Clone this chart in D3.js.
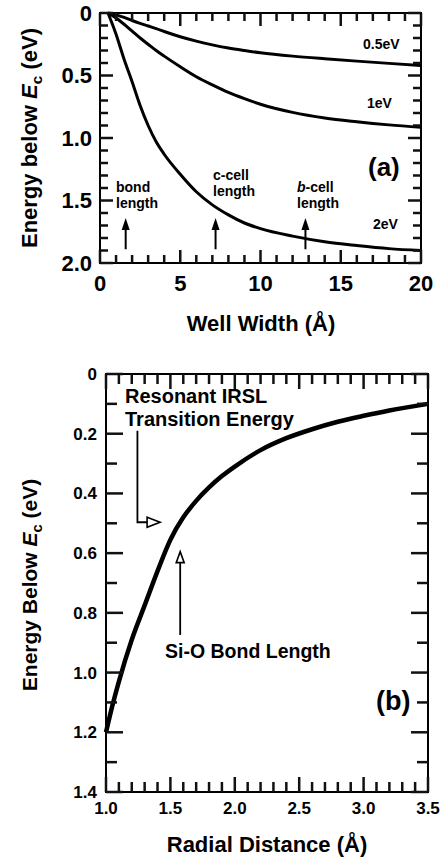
<!DOCTYPE html>
<html>
<head>
<meta charset="utf-8">
<script src="https://cdn.jsdelivr.net/npm/d3@7/dist/d3.min.js"></script>
<style>
  body { margin: 0; background: #fff; }
  text { font-family: "Liberation Sans", Arial, sans-serif; font-weight: bold; fill: #000; }
</style>
</head>
<body>
<svg id="chart" width="443" height="865"></svg>
<script>
// Panel (a): energy below Ec vs well width for three well depths
const wellWidth = [0.5, 1, 1.5, 2, 2.5, 3, 3.5, 4, 5, 6, 7, 8, 9, 10, 12, 14, 16, 18, 20];
const depth05 = [0, 0.015, 0.035, 0.06, 0.083, 0.104, 0.125, 0.148, 0.19, 0.225, 0.255, 0.28, 0.30, 0.318, 0.345, 0.366, 0.385, 0.403, 0.42];
const depth1  = [0, 0.04, 0.09, 0.145, 0.20, 0.25, 0.30, 0.345, 0.43, 0.51, 0.575, 0.635, 0.685, 0.73, 0.795, 0.84, 0.87, 0.895, 0.915];
const depth2  = [0, 0.17, 0.37, 0.55, 0.74, 0.90, 1.03, 1.13, 1.29, 1.43, 1.535, 1.615, 1.68, 1.725, 1.785, 1.83, 1.86, 1.885, 1.90];
const depthNames = ["0.5eV", "1eV", "2eV"];
const depthLabelY = [0.29, 0.76, 1.73];

// length markers in (a)
const markX = [1.6, 7.2, 12.8];
const markLine1 = ["bond", "c-cell", "-cell"];
const markLine2 = ["length", "length", "length"];

// Panel (b): energy below Ec vs radial distance
const radial = [1.0, 1.05, 1.1, 1.2, 1.3, 1.4, 1.5, 1.6, 1.7, 1.8, 1.9, 2.0, 2.2, 2.4, 2.6, 2.8, 3.0, 3.2, 3.5];
const energyB = [1.20, 1.11, 1.03, 0.89, 0.775, 0.66, 0.555, 0.48, 0.425, 0.38, 0.342, 0.31, 0.255, 0.215, 0.185, 0.16, 0.14, 0.122, 0.10];

const aYTicks = [0, 0.5, 1.0, 1.5, 2.0];
const aYLabels = ["0", "0.5", "1.0", "1.5", "2.0"];
const aXTicks = [0, 5, 10, 15, 20];
const bYTicks = [0, 0.2, 0.4, 0.6, 0.8, 1.0, 1.2, 1.4];
const bYLabels = ["0", "0.2", "0.4", "0.6", "0.8", "1.0", "1.2", "1.4"];
const bXTicks = [1.0, 1.5, 2.0, 2.5, 3.0, 3.5];

const svg = d3.select("#chart");

const isMajor = (v, majors) => majors.some(m => Math.abs(m - v) < 1e-9);
const tickLayer = [];

// box + labels; tick marks are collected and drawn last, on top of everything
function frame(x, y, o) {
  const [xl, xr] = x.range();
  const [yt, ybot] = y.range();

  o.xMinor.forEach(v => {
    const len = isMajor(v, o.xMajor) ? o.xMajLen : o.xMinLen;
    tickLayer.push([x(v), ybot, x(v), ybot - len]);
    tickLayer.push([x(v), yt, x(v), yt + len]);
  });
  o.yMinor.forEach(v => {
    const len = isMajor(v, o.yMajor) ? o.yMajLen : o.yMinLen;
    tickLayer.push([xl, y(v), xl + len, y(v)]);
    tickLayer.push([xr, y(v), xr - len, y(v)]);
  });

  svg.append("rect").attr("x", xl).attr("y", yt).attr("width", xr - xl).attr("height", ybot - yt)
    .attr("fill", "none").attr("stroke", "#000").attr("stroke-width", o.frameW);

  svg.selectAll(null).data(o.xMajor).enter().append("text")
    .attr("x", d => x(d)).attr("y", ybot + o.xPad)
    .attr("text-anchor", "middle").style("font-size", o.fontSize + "px")
    .text(o.xFmt);
  svg.selectAll(null).data(o.yMajor).enter().append("text")
    .attr("x", xl - o.yPad).attr("y", d => y(d)).attr("dy", "0.35em")
    .attr("text-anchor", "end").style("font-size", o.fontSize + "px")
    .text((d, i) => o.yLabels[i]);
}

function yTitle(xpos, ycenter, size, word) {
  const t = svg.append("text")
    .attr("transform", `translate(${xpos},${ycenter}) rotate(-90)`)
    .attr("text-anchor", "middle")
    .style("font-size", size + "px");
  t.append("tspan").text(word + " ");
  t.append("tspan").style("font-style", "italic").text("E");
  t.append("tspan").attr("dy", 5).style("font-size", (size * 0.7) + "px").text("c");
  t.append("tspan").attr("dy", -5).text(" (eV)");
}

// ---------- panel (a) ----------
const xa = d3.scaleLinear().domain([0, 20]).range([100, 421]);
const ya = d3.scaleLinear().domain([0, 2]).range([13, 263]);

frame(xa, ya, {
  xMajor: aXTicks, xMinor: d3.range(0, 20.01, 1), xMinLen: 8, xMajLen: 13, xPad: 28,
  xFmt: d3.format("d"),
  yMajor: aYTicks, yMinor: d3.range(0, 2.01, 0.1), yMinLen: 8, yMajLen: 13, yPad: 8,
  yLabels: aYLabels, fontSize: 22, frameW: 2
});

const lineA = d3.line().x((d, i) => xa(wellWidth[i])).y(d => ya(d)).curve(d3.curveMonotoneX);
[depth05, depth1, depth2].forEach(s => {
  svg.append("path").datum(s).attr("d", lineA)
    .attr("fill", "none").attr("stroke", "#000").attr("stroke-width", 3);
});

svg.selectAll(".dlab").data(depthNames).enter().append("text")
  .attr("x", (d, i) => [363, 367, 373][i])
  .attr("y", (d, i) => ya(depthLabelY[i]))
  .style("font-size", "14px")
  .text(d => d);

svg.append("text").attr("x", 368).attr("y", 176).style("font-size", "26px").text("(a)");

// marker arrows
markX.forEach(m => {
  const x = xa(m), tip = ya(1.64), base = ya(1.89);
  svg.append("line").attr("x1", x).attr("x2", x).attr("y1", base).attr("y2", tip + 8)
    .attr("stroke", "#000").attr("stroke-width", 2);
  svg.append("path").attr("d", `M${x},${tip} L${x - 4},${tip + 12} L${x + 4},${tip + 12} Z`).attr("fill", "#000");
});
const lab1Y = [192, 180, 192], labX = [116, 213, 297];
markX.forEach((m, i) => {
  const t = svg.append("text").attr("x", labX[i]).attr("y", lab1Y[i]).style("font-size", "14px");
  if (i === 2) t.append("tspan").style("font-style", "italic").text("b");
  t.append("tspan").text(markLine1[i]);
  svg.append("text").attr("x", labX[i]).attr("y", lab1Y[i] + 16).style("font-size", "14px").text(markLine2[i]);
});

yTitle(37, 138, 22, "Energy below");
svg.append("text").attr("x", 261).attr("y", 331).attr("text-anchor", "middle")
  .style("font-size", "22px").text("Well Width (Å)");

// ---------- panel (b) ----------
const xb = d3.scaleLinear().domain([1, 3.5]).range([106, 428]);
const yb = d3.scaleLinear().domain([0, 1.4]).range([374, 792]);

frame(xb, yb, {
  xMajor: bXTicks, xMinor: d3.range(1, 3.501, 0.1), xMinLen: 10, xMajLen: 15, xPad: 22,
  xFmt: d3.format(".1f"),
  yMajor: bYTicks, yMinor: d3.range(0, 1.401, 0.1), yMinLen: 11, yMajLen: 17, yPad: 9,
  yLabels: bYLabels, fontSize: 17, frameW: 2
});

const lineB = d3.line().x((d, i) => xb(radial[i])).y(d => yb(d)).curve(d3.curveMonotoneX);
svg.append("path").datum(energyB).attr("d", lineB)
  .attr("fill", "none").attr("stroke", "#000").attr("stroke-width", 4.5);

svg.append("text").attr("x", 125).attr("y", 403).style("font-size", "20px").text("Resonant IRSL");
svg.append("text").attr("x", 125).attr("y", 426).style("font-size", "20px").text("Transition Energy");

// IRSL arrow: down then right, open head
{
  const x0 = xb(1.244), yTop = yb(0.19), yTurn = yb(0.4966), tipX = xb(1.42);
  svg.append("path").attr("d", `M${x0},${yTop} V${yTurn} H${tipX - 13}`)
    .attr("fill", "none").attr("stroke", "#000").attr("stroke-width", 1.8);
  svg.append("path").attr("d", `M${tipX - 13},${yTurn - 5} L${tipX},${yTurn} L${tipX - 13},${yTurn + 5} Z`)
    .attr("fill", "#fff").attr("stroke", "#000").attr("stroke-width", 1.6);
}
// Si-O bond length arrow: up, open head
{
  const x0 = xb(1.576), yBot = yb(0.874), tip = yb(0.595);
  svg.append("line").attr("x1", x0).attr("x2", x0).attr("y1", yBot).attr("y2", tip + 11)
    .attr("stroke", "#000").attr("stroke-width", 1.8);
  svg.append("path").attr("d", `M${x0 - 4},${tip + 11} L${x0},${tip} L${x0 + 4},${tip + 11} Z`)
    .attr("fill", "#fff").attr("stroke", "#000").attr("stroke-width", 1.6);
}
svg.append("text").attr("x", 165).attr("y", 658).style("font-size", "19.5px").text("Si-O Bond Length");
svg.append("text").attr("x", 376).attr("y", 710).style("font-size", "27px").text("(b)");

yTitle(37, 585, 21, "Energy Below");
svg.append("text").attr("x", 267).attr("y", 852).attr("text-anchor", "middle")
  .style("font-size", "22px").text("Radial Distance (Å)");

// inward tick marks on every side, drawn last
svg.append("g").selectAll("line").data(tickLayer).enter().append("line")
  .attr("x1", d => d[0]).attr("y1", d => d[1])
  .attr("x2", d => d[2]).attr("y2", d => d[3])
  .attr("stroke", "#111").attr("stroke-width", 2.5);
</script>
</body>
</html>
